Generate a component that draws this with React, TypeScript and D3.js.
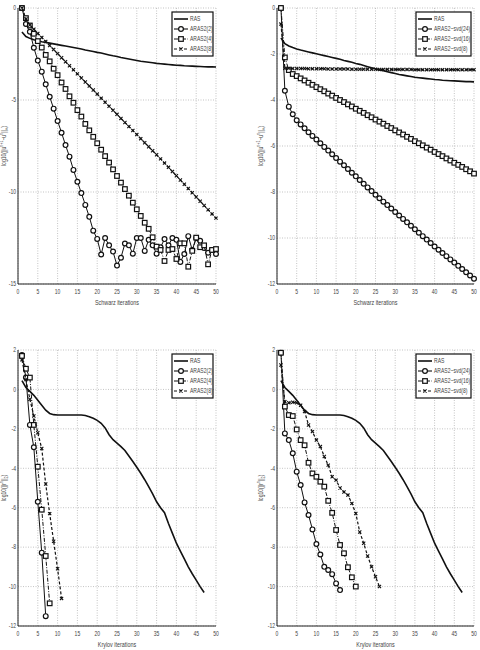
import { useEffect, useRef } from 'react';
import * as d3 from 'd3';

// residual histories, one value per iteration starting at iteration 1
const rasSchwarz = [-1.3, -1.55, -1.65, -1.72, -1.78, -1.83, -1.87, -1.91, -1.95, -1.99, -2.03, -2.07, -2.11, -2.15, -2.19, -2.23, -2.28, -2.32, -2.36, -2.41, -2.45, -2.5, -2.55, -2.6, -2.64, -2.69, -2.73, -2.77, -2.81, -2.85, -2.89, -2.92, -2.95, -2.98, -3.01, -3.03, -3.05, -3.07, -3.09, -3.11, -3.12, -3.14, -3.15, -3.16, -3.17, -3.18, -3.19, -3.2, -3.2, -3.21];
const aras2Schwarz = [0, -0.87, -1.29, -2.16, -2.86, -3.46, -4.15, -4.82, -5.47, -6.14, -6.78, -7.45, -8.08, -8.8, -9.44, -10.06, -10.7, -11.35, -12.1, -12.55, -13.4, -12.5, -12.9, -13.24, -14.0, -13.57, -12.8, -12.9, -13.35, -12.5, -12.5, -13.2, -12.6, -12.9, -13.35, -13.0, -12.56, -12.9, -12.5, -12.6, -13.8, -13.37, -12.4, -13.15, -12.5, -12.65, -13.05, -13.3, -13.15, -13.37];
const aras4Schwarz = [0, -0.55, -0.95, -1.4, -1.8, -2.15, -2.55, -2.9, -3.3, -3.65, -4.05, -4.4, -4.8, -5.15, -5.55, -5.9, -6.3, -6.65, -7.0, -7.35, -7.7, -8.05, -8.4, -8.77, -9.13, -9.49, -9.84, -10.2, -10.58, -10.94, -11.3, -11.67, -12.0, -12.46, -12.97, -13.15, -13.75, -13.15, -13.1, -13.64, -12.79, -12.79, -14.06, -13.2, -12.48, -13.0, -12.9, -13.93, -13.15, -13.1];
const aras8Schwarz = [0, -0.6, -0.92, -1.15, -1.38, -1.6, -1.82, -2.04, -2.26, -2.48, -2.7, -2.92, -3.14, -3.36, -3.58, -3.8, -4.02, -4.24, -4.46, -4.68, -4.9, -5.12, -5.34, -5.56, -5.78, -6.0, -6.22, -6.44, -6.66, -6.88, -7.1, -7.32, -7.54, -7.76, -7.98, -8.2, -8.43, -8.66, -8.89, -9.12, -9.35, -9.58, -9.81, -10.04, -10.27, -10.5, -10.73, -10.96, -11.19, -11.42];

const svd24Schwarz = [0, -3.6, -4.29, -4.62, -4.88, -5.06, -5.23, -5.4, -5.56, -5.72, -5.88, -6.04, -6.2, -6.36, -6.52, -6.68, -6.84, -7.0, -7.16, -7.32, -7.48, -7.64, -7.8, -7.96, -8.12, -8.27, -8.42, -8.57, -8.72, -8.87, -9.02, -9.17, -9.32, -9.47, -9.62, -9.77, -9.92, -10.07, -10.22, -10.37, -10.51, -10.65, -10.79, -10.93, -11.07, -11.21, -11.35, -11.49, -11.63, -11.77];
const svd16Schwarz = [0, -2.15, -2.7, -2.87, -2.96, -3.06, -3.15, -3.25, -3.34, -3.44, -3.53, -3.62, -3.72, -3.81, -3.91, -4.0, -4.09, -4.19, -4.28, -4.38, -4.47, -4.56, -4.66, -4.75, -4.85, -4.94, -5.03, -5.13, -5.22, -5.32, -5.41, -5.5, -5.6, -5.69, -5.79, -5.88, -5.97, -6.07, -6.16, -6.26, -6.35, -6.44, -6.54, -6.63, -6.73, -6.82, -6.91, -7.01, -7.1, -7.2];
const svd8Schwarz = [-0.7, -2.62, -2.62, -2.63, -2.63, -2.63, -2.63, -2.64, -2.64, -2.64, -2.64, -2.64, -2.65, -2.65, -2.65, -2.65, -2.65, -2.65, -2.66, -2.66, -2.66, -2.66, -2.66, -2.66, -2.66, -2.67, -2.67, -2.67, -2.67, -2.67, -2.67, -2.67, -2.67, -2.67, -2.68, -2.68, -2.68, -2.68, -2.68, -2.68, -2.68, -2.68, -2.68, -2.68, -2.68, -2.68, -2.68, -2.68, -2.68, -2.68];

const rasKrylov = [0.45, 0.1, -0.1, -0.3, -0.55, -0.8, -1.05, -1.22, -1.28, -1.3, -1.3, -1.3, -1.3, -1.3, -1.3, -1.3, -1.32, -1.38, -1.46, -1.57, -1.72, -1.95, -2.3, -2.55, -2.72, -2.9, -3.1, -3.38, -3.66, -3.95, -4.25, -4.58, -4.93, -5.3, -5.7, -6.0, -6.25, -6.8, -7.3, -7.8, -8.2, -8.6, -9.0, -9.35, -9.67, -10.0, -10.3];
const aras2Krylov = [1.75, 0.6, -1.8, -2.93, -5.7, -8.28, -11.5];
const aras4Krylov = [1.7, 1.05, 0.6, -1.8, -3.92, -6.1, -8.45, -10.85];
const aras8Krylov = [1.5, 0.5, -0.5, -1.35, -2.2, -3.0, -4.8, -6.3, -7.7, -9.1, -10.6];

const svd24Krylov = [1.86, -2.23, -2.57, -3.24, -4.17, -4.85, -5.73, -6.37, -7.1, -7.84, -8.37, -9.0, -9.16, -9.37, -9.84, -10.18];
const svd16Krylov = [1.86, -0.87, -1.3, -1.35, -2.03, -2.57, -2.83, -3.72, -4.26, -4.43, -4.68, -4.93, -5.65, -6.26, -7.13, -7.89, -8.31, -9.02, -9.53, -10.0];
const svd8Krylov = [1.24, -0.62, -0.68, -0.65, -0.68, -0.8, -1.12, -1.8, -2.14, -2.57, -2.9, -3.4, -3.84, -4.43, -4.6, -5.0, -5.2, -5.36, -5.78, -6.29, -7.23, -7.8, -8.45, -9.0, -9.5, -10.0];

const xTicks = [0, 5, 10, 15, 20, 25, 30, 35, 40, 45, 50];
const labelsOverlap = ['RAS', 'ARAS2(2)', 'ARAS2(4)', 'ARAS2(8)'];
const labelsSvd = ['RAS', 'ARAS2\u2212svd(24)', 'ARAS2\u2212svd(16)', 'ARAS2\u2212svd(8)'];

type Marker = 'none' | 'circle' | 'square' | 'x';

const FONT = "'Liberation Sans', Arial, sans-serif";
const NARROW = 0.72; // the original labels are set in a condensed face

const styleOf = (i: number) => [
  { marker: 'none' as Marker, dash: '', width: 1.6 },
  { marker: 'circle' as Marker, dash: '', width: 1 },
  { marker: 'square' as Marker, dash: '4,1.5,1,1.5', width: 1 },
  { marker: 'x' as Marker, dash: '3,2', width: 1.2 },
][i];

function drawMarker(g: d3.Selection<SVGGElement, unknown, null, undefined>, kind: Marker, cx: number, cy: number) {
  if (kind === 'circle') {
    g.append('circle').attr('cx', cx).attr('cy', cy).attr('r', 2.4)
      .attr('fill', 'white').attr('stroke', '#111').attr('stroke-width', 1.2);
  } else if (kind === 'square') {
    g.append('rect').attr('x', cx - 2.3).attr('y', cy - 2.3).attr('width', 4.6).attr('height', 4.6)
      .attr('fill', 'white').attr('stroke', '#111').attr('stroke-width', 1.2);
  } else if (kind === 'x') {
    const s = 1.6;
    g.append('path').attr('d', `M${cx - s},${cy - s}L${cx + s},${cy + s}M${cx - s},${cy + s}L${cx + s},${cy - s}`)
      .attr('stroke', '#111').attr('stroke-width', 1.1);
  }
}

interface PanelCfg {
  left: number; right: number; top: number; bottom: number;
  yDomain: [number, number]; yTicks: number[];
  series: number[][]; labels: string[];
  xLabel: string; yLabel: 'u' | 'r'; yLabelX: number;
  legendWidth: number;
}

function drawPanel(svg: d3.Selection<SVGSVGElement, unknown, null, undefined>, cfg: PanelCfg) {
  const x = d3.scaleLinear().domain([0, 50]).range([cfg.left, cfg.right]);
  const y = d3.scaleLinear().domain(cfg.yDomain).range([cfg.bottom, cfg.top]);
  const g = svg.append('g');

  // dotted grid
  g.selectAll('line.gx').data(xTicks).enter().append('line')
    .attr('x1', d => x(d)).attr('x2', d => x(d)).attr('y1', cfg.top).attr('y2', cfg.bottom)
    .attr('stroke', '#aaa').attr('stroke-width', 0.7).attr('stroke-dasharray', '1,1.5');
  g.selectAll('line.gy').data(cfg.yTicks).enter().append('line')
    .attr('x1', cfg.left).attr('x2', cfg.right).attr('y1', d => y(d)).attr('y2', d => y(d))
    .attr('stroke', '#aaa').attr('stroke-width', 0.7).attr('stroke-dasharray', '1,1.5');

  // axes
  g.append('line').attr('x1', cfg.left).attr('x2', cfg.left).attr('y1', cfg.top).attr('y2', cfg.bottom)
    .attr('stroke', '#222').attr('stroke-width', 1);
  g.append('line').attr('x1', cfg.left).attr('x2', cfg.right).attr('y1', cfg.bottom).attr('y2', cfg.bottom)
    .attr('stroke', '#222').attr('stroke-width', 1);

  g.selectAll('text.tx').data(xTicks).enter().append('text')
    .attr('transform', d => `translate(${x(d)},${cfg.bottom + 10}) scale(${NARROW},1)`)
    .attr('text-anchor', 'middle')
    .attr('font-family', FONT).attr('font-size', 7).attr('fill', '#444').text(d => `${d}`);
  g.selectAll('text.ty').data(cfg.yTicks).enter().append('text')
    .attr('transform', d => `translate(${cfg.left - 2},${y(d) + 2.3}) scale(${NARROW},1)`)
    .attr('text-anchor', 'end')
    .attr('font-family', FONT).attr('font-size', 7).attr('fill', '#444').text(d => `${d}`);

  g.append('text')
    .attr('transform', `translate(${(cfg.left + cfg.right) / 2},${cfg.bottom + 21}) scale(${NARROW},1)`)
    .attr('text-anchor', 'middle').attr('font-family', FONT).attr('font-size', 7.5).attr('fill', '#444')
    .text(cfg.xLabel);

  // rotated y label
  const cy = (cfg.top + cfg.bottom) / 2;
  const yl = g.append('text')
    .attr('transform', `translate(${cfg.yLabelX},${cy}) rotate(-90) scale(${NARROW},1)`)
    .attr('text-anchor', 'middle').attr('font-family', FONT).attr('font-size', 7).attr('fill', '#444');
  if (cfg.yLabel === 'u') {
    yl.append('tspan').text('log10(||u');
    yl.append('tspan').attr('dy', -2.8).attr('font-size', 5).text('n+1');
    yl.append('tspan').attr('dy', 2.8).text('\u2212u');
    yl.append('tspan').attr('dy', -2.8).attr('font-size', 5).text('n');
    yl.append('tspan').attr('dy', 2.8).text('||');
    yl.append('tspan').attr('dy', 1.6).attr('font-size', 5).text('\u221e');
    yl.append('tspan').attr('dy', -1.6).text(')');
  } else {
    yl.append('tspan').text('log10(||r');
    yl.append('tspan').attr('dy', -2.8).attr('font-size', 5).text('n');
    yl.append('tspan').attr('dy', 2.8).text('||');
    yl.append('tspan').attr('dy', 1.6).attr('font-size', 5).text('2');
    yl.append('tspan').attr('dy', -1.6).text(')');
  }

  // series
  cfg.series.forEach((vals, si) => {
    const st = styleOf(si);
    const pts = vals.map((v, i) => ({ it: i + 1, v }));
    const line = d3.line<{ it: number; v: number }>().x(d => x(d.it)).y(d => y(d.v));
    g.append('path').datum(pts).attr('d', line).attr('fill', 'none')
      .attr('stroke', '#111').attr('stroke-width', st.width)
      .attr('stroke-dasharray', st.dash || null);
    const mg = g.append('g');
    pts.forEach(p => drawMarker(mg, st.marker, x(p.it), y(p.v)));
  });

  // legend
  const lw = cfg.legendWidth;
  const lx = cfg.right - 3 - lw;
  const ly = cfg.top + 4;
  const lg = g.append('g').attr('transform', `translate(${lx},${ly})`);
  lg.append('rect').attr('width', lw).attr('height', 44).attr('fill', 'white')
    .attr('stroke', '#111').attr('stroke-width', 1.2);
  cfg.labels.forEach((lab, i) => {
    const st = styleOf(i);
    const ry = 7 + i * 10;
    lg.append('line').attr('x1', 2).attr('x2', 16).attr('y1', ry).attr('y2', ry)
      .attr('stroke', '#111').attr('stroke-width', i === 0 ? 1.6 : 1.1)
      .attr('stroke-dasharray', st.dash || null);
    drawMarker(lg, st.marker, 9, ry);
    lg.append('text').attr('transform', `translate(18,${ry + 2.4}) scale(${NARROW},1)`)
      .attr('font-family', FONT).attr('font-size', 7).attr('fill', '#444').text(lab);
  });
}

export default function App() {
  const svgRef = useRef<SVGSVGElement>(null);

  useEffect(() => {
    if (!svgRef.current) return;
    const svg = d3.select(svgRef.current);
    svg.selectAll('*').remove();

    drawPanel(svg, {
      left: 18, right: 216, top: 8, bottom: 284,
      yDomain: [-15, 0], yTicks: [-15, -10, -5, 0],
      series: [rasSchwarz, aras2Schwarz, aras4Schwarz, aras8Schwarz], labels: labelsOverlap,
      xLabel: 'Schwarz iterations', yLabel: 'u', yLabelX: 6, legendWidth: 41,
    });
    drawPanel(svg, {
      left: 277, right: 474, top: 8, bottom: 284,
      yDomain: [-12, 0], yTicks: [-12, -10, -8, -6, -4, -2, 0],
      series: [rasSchwarz, svd24Schwarz, svd16Schwarz, svd8Schwarz], labels: labelsSvd,
      xLabel: 'Schwarz iterations', yLabel: 'u', yLabelX: 263, legendWidth: 55,
    });
    drawPanel(svg, {
      left: 18, right: 216, top: 350, bottom: 626,
      yDomain: [-12, 2], yTicks: [-12, -10, -8, -6, -4, -2, 0, 2],
      series: [rasKrylov, aras2Krylov, aras4Krylov, aras8Krylov], labels: labelsOverlap,
      xLabel: 'Krylov iterations', yLabel: 'r', yLabelX: 6, legendWidth: 41,
    });
    drawPanel(svg, {
      left: 277, right: 474, top: 350, bottom: 626,
      yDomain: [-12, 2], yTicks: [-12, -10, -8, -6, -4, -2, 0, 2],
      series: [rasKrylov, svd24Krylov, svd16Krylov, svd8Krylov], labels: labelsSvd,
      xLabel: 'Krylov iterations', yLabel: 'r', yLabelX: 263, legendWidth: 55,
    });
  }, []);

  return (
    <svg ref={svgRef} width={480} height={650}
      style={{ position: 'absolute', left: 0, top: 0, background: 'white' }} />
  );
}
